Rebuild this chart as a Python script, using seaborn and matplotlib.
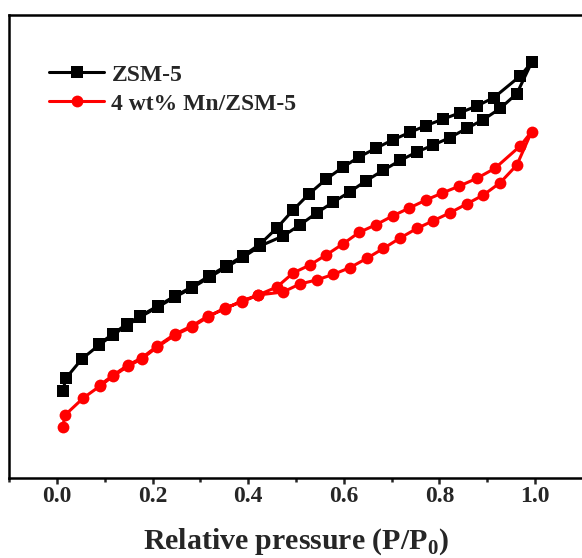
import matplotlib
matplotlib.use("Agg")
import matplotlib.pyplot as plt
from matplotlib.ticker import MultipleLocator
import pandas as pd
import seaborn as sns

# N2 isotherms (quantity adsorbed in arbitrary units)
zsm_ads_p = [0.012, 0.019, 0.052, 0.088, 0.117, 0.146, 0.174, 0.211, 0.247, 0.282,
             0.320, 0.355, 0.390, 0.425, 0.473, 0.508, 0.543, 0.577, 0.612, 0.646,
             0.682, 0.718, 0.753, 0.787, 0.822, 0.857, 0.892, 0.927, 0.962, 0.993]
zsm_ads_v = [21.75, 25.0, 29.75, 33.25, 35.75, 38.1, 40.25, 42.75, 45.25, 47.5,
             50.25, 52.75, 55.25, 58.0, 60.5, 63.25, 66.25, 68.9, 71.5, 74.25,
             76.9, 79.4, 81.5, 83.25, 85.1, 87.4, 89.6, 92.4, 96.1, 103.9]
zsm_des_p = [0.969, 0.914, 0.878, 0.843, 0.807, 0.772, 0.738, 0.702, 0.668, 0.632,
             0.598, 0.563, 0.527, 0.494, 0.460, 0.425, 0.389, 0.354, 0.318, 0.282,
             0.247, 0.211, 0.174, 0.146, 0.117, 0.088]
zsm_des_v = [100.5, 95.1, 93.0, 91.3, 89.7, 88.1, 86.4, 84.5, 82.5, 80.25,
             77.7, 74.7, 71.0, 67.0, 62.5, 58.5, 55.5, 53.0, 50.5, 47.75,
             45.5, 43.0, 40.5, 38.5, 36.0, 33.5]

mn_ads_p = [0.012, 0.017, 0.055, 0.090, 0.118, 0.149, 0.177, 0.210, 0.247, 0.282,
            0.316, 0.351, 0.386, 0.421, 0.473, 0.508, 0.543, 0.578, 0.613, 0.648,
            0.683, 0.718, 0.753, 0.787, 0.822, 0.857, 0.892, 0.927, 0.962, 0.993]
mn_ads_v = [12.75, 15.75, 20.0, 23.0, 25.5, 28.0, 29.75, 32.75, 35.75, 37.75,
            40.25, 42.5, 44.0, 45.75, 46.5, 48.5, 49.5, 50.9, 52.6, 54.9,
            57.4, 60.0, 62.4, 64.3, 66.3, 68.5, 70.75, 73.8, 78.25, 86.6]
mn_des_p = [0.969, 0.916, 0.878, 0.842, 0.805, 0.772, 0.737, 0.702, 0.667, 0.632,
            0.598, 0.563, 0.529, 0.494, 0.460, 0.421, 0.386, 0.351, 0.316, 0.282,
            0.247, 0.210, 0.177, 0.149, 0.118, 0.090]
mn_des_v = [83.0, 77.4, 74.9, 73.0, 71.2, 69.5, 67.5, 65.5, 63.3, 61.4,
            58.5, 55.75, 53.25, 51.25, 47.75, 45.75, 44.25, 42.25, 40.5, 38.0,
            36.0, 33.0, 30.0, 28.25, 25.75, 23.25]

labels = ["ZSM-5", "4 wt% Mn/ZSM-5"]

# one continuous loop per sample: adsorption up, desorption back down
frames = []
for lab, ap, av, dp, dv in [(labels[0], zsm_ads_p, zsm_ads_v, zsm_des_p, zsm_des_v),
                            (labels[1], mn_ads_p, mn_ads_v, mn_des_p, mn_des_v)]:
    frames.append(pd.DataFrame({"p": ap + dp, "v": av + dv, "sample": lab}))
df = pd.concat(frames, ignore_index=True)

sns.set_style("ticks")
plt.rcParams["font.family"] = ["Liberation Serif", "DejaVu Serif"]
plt.rcParams["font.weight"] = "bold"
plt.rcParams["mathtext.fontset"] = "custom"
plt.rcParams["mathtext.rm"] = "Liberation Serif:bold"
plt.rcParams["mathtext.bf"] = "Liberation Serif:bold"

fig = plt.figure(figsize=(5.82, 5.58), dpi=100)
ax = fig.add_axes([0.0158, 0.1434, 0.9856, 0.8297])

sns.lineplot(data=df, x="p", y="v", hue="sample", style="sample",
             palette={labels[0]: "black", labels[1]: "red"},
             markers={labels[0]: "s", labels[1]: "o"}, dashes=False,
             sort=False, estimator=None, linewidth=2.2, markersize=8.5,
             markeredgewidth=0, ax=ax)

ax.set_xlim(-0.1, 1.1)
ax.set_ylim(0, 115.75)
ax.xaxis.set_minor_locator(MultipleLocator(0.1))
ax.set_xticks([0.0, 0.2, 0.4, 0.6, 0.8, 1.0])
ax.set_xticklabels(["0.0", "0.2", "0.4", "0.6", "0.8", "1.0"])
ax.set_yticks([])
ax.set_ylabel("")
ax.set_xlabel(r"Relative pressure (P/P$_\mathbf{0}$)", fontsize=21.5, fontweight="bold",
              labelpad=14)
ax.tick_params(axis="x", which="major", direction="out", length=4.5, width=1.8,
               labelsize=17, pad=1.5)
ax.tick_params(axis="x", which="minor", direction="out", length=3, width=1.8)
for lbl in ax.get_xticklabels():
    lbl.set_fontweight("bold")
for s in ax.spines.values():
    s.set_visible(True)
    s.set_linewidth(1.8)
    s.set_color("black")

handles, _ = ax.get_legend_handles_labels()
ax.legend(handles=handles, labels=labels, loc="upper left",
          bbox_to_anchor=(0.033, 0.94), frameon=False,
          handlelength=2.33, handletextpad=0.3, labelspacing=0.32,
          prop={"weight": "bold", "size": 17})

fig.savefig("out.png", dpi=100)
